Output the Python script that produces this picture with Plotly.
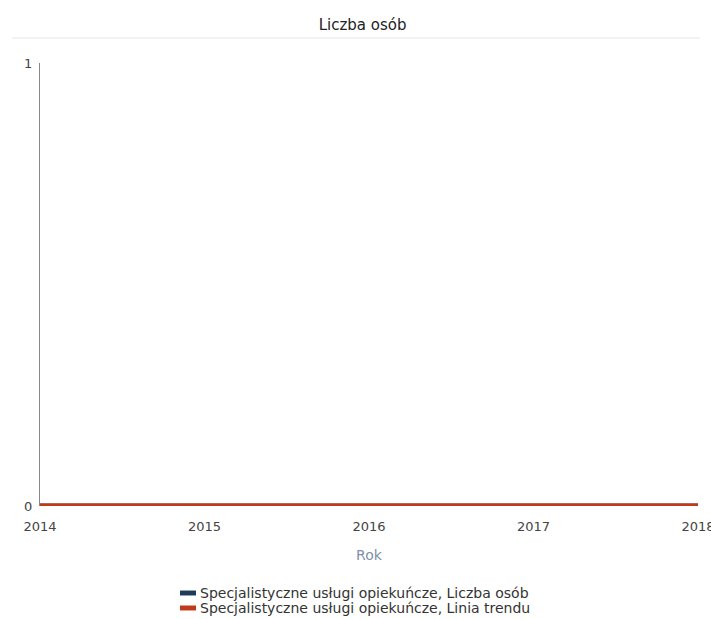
import plotly.graph_objects as go

years = [2014, 2015, 2016, 2017, 2018]
liczba_osob = [0, 0, 0, 0, 0]
linia_trendu = [0, 0, 0, 0, 0]
series_names = ["Specjalistyczne usługi opiekuńcze, Liczba osób",
                "Specjalistyczne usługi opiekuńcze, Linia trendu"]
series_colors = ["#1f3a5a", "#c23a1c"]

FONT = "DejaVu Sans, Verdana, sans-serif"

fig = go.Figure()
for vals, name, col in zip([liczba_osob, linia_trendu], series_names, series_colors):
    fig.add_trace(go.Scatter(x=years, y=vals, mode="lines", name=name,
                             line=dict(color=col, width=5), showlegend=False))

fig.update_layout(
    width=711, height=619,
    paper_bgcolor="white", plot_bgcolor="white",
    margin=dict(l=40, r=13, t=63, b=113),
    title=dict(text="Liczba osób", x=0.51, xanchor="center", xref="container",
               y=1 - 25 / 619, yanchor="middle", yref="container",
               font=dict(family=FONT, size=15, color="#222")),
    font=dict(family=FONT, size=13, color="#444"),
    xaxis=dict(range=[2014, 2018], tickvals=years, ticktext=[str(y) for y in years],
               showgrid=False, zeroline=False, showline=False,
               ticks="outside", ticklen=8, tickcolor="rgba(0,0,0,0)",
               ticklabeloverflow="allow",
               tickfont=dict(size=13, color="#444"), automargin=False,
               title=dict(text="Rok", font=dict(size=14, color="#8090a8"), standoff=17)),
    yaxis=dict(range=[0, 1], tickvals=[0, 1], showgrid=True, gridcolor="#e2e2e2",
               zeroline=False, showline=True, linecolor="#888", linewidth=1,
               ticks="outside", ticklen=4, tickcolor="rgba(0,0,0,0)",
               tickfont=dict(size=13, color="#444"), automargin=False),
    showlegend=False,
)

# rule under the title
fig.add_shape(type="line", xref="paper", yref="paper", x0=-0.0425, x1=1.003,
              y0=1.0564, y1=1.0564, line=dict(color="#e6e6e6", width=1))

# legend (swatches + labels)
legend_rows_y = [-0.1964, -0.2302]
for yy, name, col in zip(legend_rows_y, series_names, series_colors):
    fig.add_shape(type="rect", xref="paper", yref="paper",
                  x0=0.2128, x1=0.2371, y0=yy - 0.0056, y1=yy + 0.0056,
                  fillcolor=col, line=dict(width=0))
    fig.add_annotation(text=name, xref="paper", yref="paper", x=0.2401, y=yy,
                       xanchor="left", yanchor="middle", showarrow=False,
                       font=dict(family=FONT, size=14, color="#333"))

fig.write_html("out.html", config={"displayModeBar": False},
               post_script="document.body.style.margin='0';document.body.style.overflow='hidden';")
